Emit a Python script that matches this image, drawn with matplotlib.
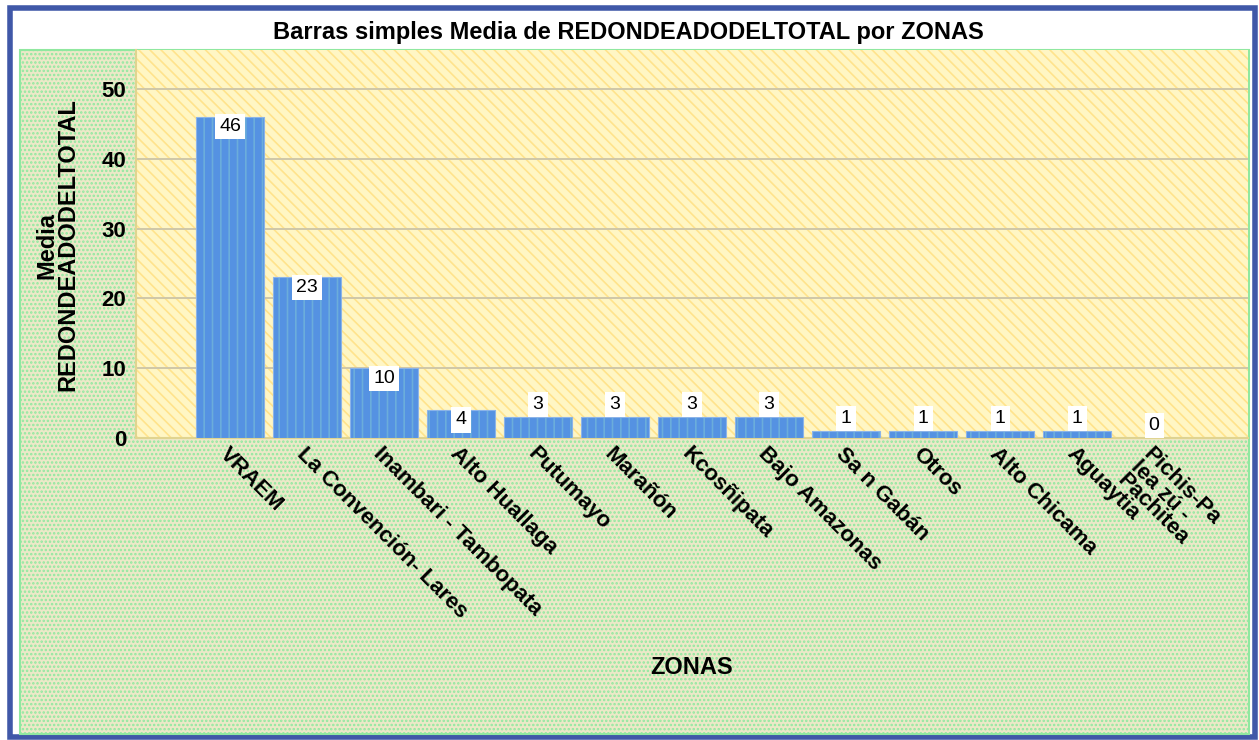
import matplotlib.pyplot as plt
from matplotlib.patches import Rectangle

# datos
zonas = ['VRAEM', 'La Convención- Lares', 'Inambari - Tambopata', 'Alto Huallaga',
         'Putumayo', 'Marañón', 'Kcosñipata', 'Bajo Amazonas', 'Sa n Gabán', 'Otros',
         'Alto Chicama', 'Aguaytia', 'Pichis-Pa\nlea zú -\nPachitea']
media = [46, 23, 10, 4, 3, 3, 3, 3, 1, 1, 1, 1, 0]
yticks = [0, 10, 20, 30, 40, 50]

FONT = 'Liberation Sans'
plt.rcParams['hatch.linewidth'] = 1.2
plt.rcParams['hatch.color'] = '#A8E4AE'
fig = plt.figure(figsize=(12.59, 7.40), dpi=100)
W, H = 1259, 740

def px(x0, y0, x1, y1):
    return (x0 / W, 1 - y1 / H), (x1 - x0) / W, (y1 - y0) / H

# marco azul exterior y fondo blanco
xy, w, h = px(10, 8, 1255, 737)
fig.patches.append(Rectangle(xy, w, h, transform=fig.transFigure, facecolor='white',
                             edgecolor='#4058A8', linewidth=4, zorder=0))
# panel verde punteado
xy, w, h = px(20, 50, 1249, 734)
fig.patches.append(Rectangle(xy, w, h, transform=fig.transFigure, facecolor='#ECE8C8',
                             edgecolor='#90E8A0', linewidth=1.5, hatch='....',
                             zorder=0.5))

fig.text(628 / W, 1 - 32 / H, 'Barras simples Media de REDONDEADODELTOTAL por ZONAS',
         ha='center', va='center', fontsize=17, fontweight='bold', family=FONT)

ax = fig.add_axes([136 / W, 1 - 438 / H, (1248 - 136) / W, (438 - 50) / H])
ax.set_zorder(2)
ax.set_facecolor('#FFF6C4')
bg = Rectangle((0, 0), 1, 1, transform=ax.transAxes, facecolor='#FFF6C4',
               hatch='\\\\\\', linewidth=0, zorder=0)
bg._hatch_color = (1.0, 0.89, 0.55, 1)
ax.add_patch(bg)

x = list(range(len(zonas)))
bars = ax.bar(x, media, width=0.88, color='#5592E2', edgecolor='#8CB4E8',
              linewidth=0.8, zorder=3)
for b in bars:
    b.set_hatch('||')
    b._hatch_color = (0.42, 0.68, 0.86, 1)

for xi, v in zip(x, media):
    if v >= 4:
        ax.text(xi, v - 0.2, str(v), ha='center', va='top', fontsize=14,
                family=FONT, zorder=5,
                bbox=dict(facecolor='white', edgecolor='none', pad=3))
    else:
        ax.text(xi, v + 0.6, str(v), ha='center', va='bottom', fontsize=14,
                family=FONT, zorder=5,
                bbox=dict(facecolor='white', edgecolor='none', pad=3))

ax.set_xlim(-1.22, 13.22)
ax.set_ylim(0, 55.6)
ax.set_yticks(yticks)
ax.set_yticklabels([str(t) for t in yticks], fontsize=16, fontweight='bold',
                   family=FONT)
ax.yaxis.grid(True, color='#CFC7A8', linewidth=1.4, zorder=1)
ax.set_axisbelow(True)
ax.tick_params(axis='y', length=0, pad=7)
ax.tick_params(axis='x', length=0, pad=4)
ax.set_xticks(x)
ax.set_xticklabels(zonas, rotation=-45, ha='left', va='top', rotation_mode='anchor',
                   fontsize=16, fontweight='bold', family=FONT, linespacing=0.85)
for s in ['top', 'right']:
    ax.spines[s].set_visible(False)
for s in ['left', 'bottom']:
    ax.spines[s].set_color('#E0D490')
    ax.spines[s].set_linewidth(1.5)

fig.text(57 / W, 1 - 245 / H, 'Media\nREDONDEADODELTOTAL', rotation=90, ha='center',
         va='center', fontsize=17, fontweight='bold', family=FONT,
         linespacing=0.9)
fig.text(692 / W, 1 - 668 / H, 'ZONAS', ha='center', va='center', fontsize=17,
         fontweight='bold', family=FONT)

fig.savefig('out.png', dpi=100)
